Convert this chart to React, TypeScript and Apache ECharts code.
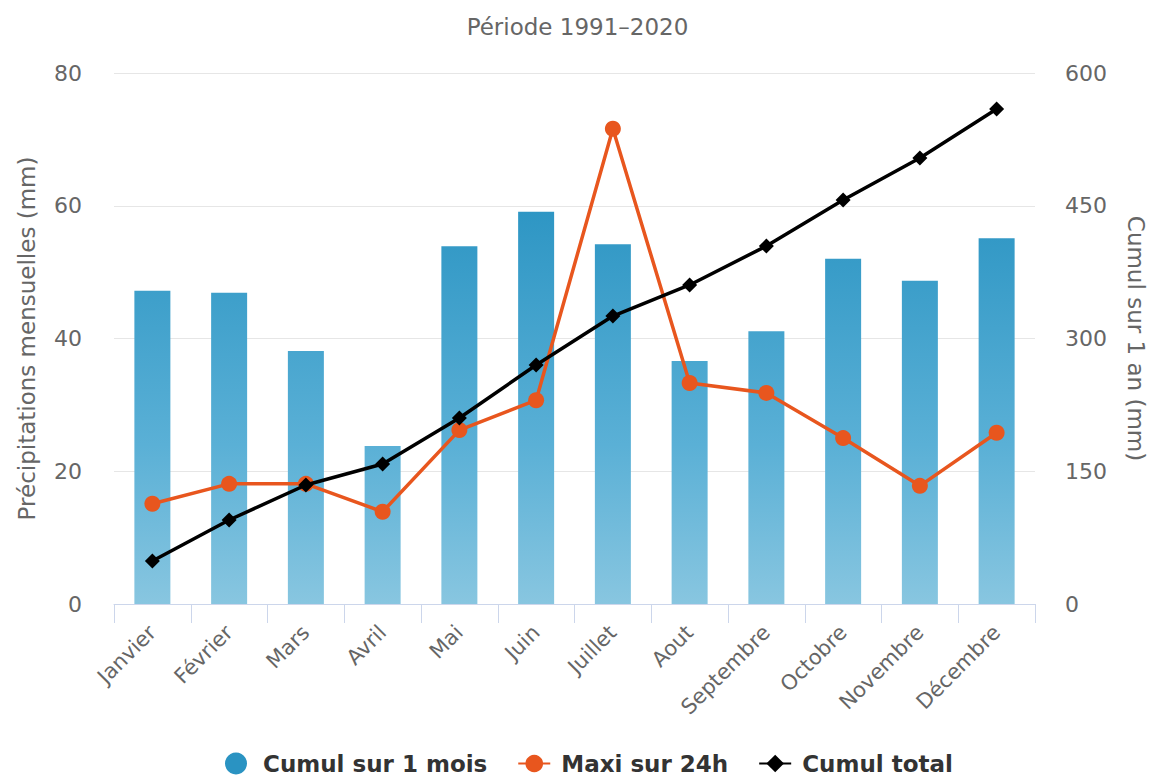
import React, { useEffect, useRef } from "react";
import * as echarts from "echarts";

const months = ["Janvier", "Février", "Mars", "Avril", "Mai", "Juin", "Juillet", "Aout", "Septembre", "Octobre", "Novembre", "Décembre"];
const cumulMois = [47.2, 46.9, 38.1, 23.8, 53.9, 59.1, 54.2, 36.6, 41.1, 52.0, 48.7, 55.1];
const maxi24h = [15.1, 18.1, 18.1, 13.9, 26.2, 30.7, 71.6, 33.3, 31.8, 25.0, 17.8, 25.8];
const cumulTotal = [48.6, 94.9, 134.5, 158.2, 210.2, 270.0, 325.4, 360.5, 404.5, 456.5, 504.0, 559.3];

export default function App() {
  const ref = useRef<HTMLDivElement>(null);
  useEffect(() => {
    const chart = echarts.init(ref.current!, null, { renderer: "svg" });
    const font = "DejaVu Sans";
    const gray = "#666666";
    chart.setOption({
      animation: false,
      title: {
        text: "Période 1991–2020",
        left: "center",
        top: 10,
        textStyle: { fontFamily: font, fontSize: 23, fontWeight: "normal", color: gray },
      },
      grid: { left: 114, right: 117, top: 73, bottom: 179, containLabel: false },
      legend: {
        top: 747,
        left: 220,
        itemGap: 30,
        itemWidth: 32,
        itemHeight: 22,
        textStyle: { fontFamily: font, fontSize: 23, fontWeight: "bold", color: "#333333", padding: [0, 0, 0, 6] },
        data: [
          { name: "Cumul sur 1 mois", icon: "circle", itemStyle: { color: "#2a93c2" } },
          { name: "Maxi sur 24h" },
          { name: "Cumul total" },
        ],
      },
      xAxis: {
        type: "category",
        data: months,
        boundaryGap: true,
        axisLine: { lineStyle: { color: "#ccd6eb", width: 1 } },
        axisTick: { show: true, length: 19, lineStyle: { color: "#ccd6eb" } },
        axisLabel: { fontFamily: font, fontSize: 21, color: gray, rotate: 45, margin: 25, interval: 0 },
      },
      yAxis: [
        {
          type: "value",
          min: 0,
          max: 80,
          interval: 20,
          name: "Précipitations mensuelles (mm)",
          nameLocation: "middle",
          nameGap: 76,
          nameTextStyle: { fontFamily: font, fontSize: 23, color: gray },
          axisLabel: { fontFamily: font, fontSize: 22, color: gray, margin: 32 },
          axisLine: { show: false },
          axisTick: { show: false },
          splitLine: { lineStyle: { color: "#e6e6e6" } },
        },
        {
          type: "value",
          min: 0,
          max: 600,
          interval: 150,
          name: "Cumul sur 1 an (mm)",
          nameLocation: "middle",
          nameRotate: -90,
          nameGap: 89,
          nameTextStyle: { fontFamily: font, fontSize: 23, color: gray },
          axisLabel: { fontFamily: font, fontSize: 22, color: gray, margin: 30 },
          axisLine: { show: false },
          axisTick: { show: false },
          splitLine: { show: false },
        },
      ],
      series: [
        {
          name: "Cumul sur 1 mois",
          type: "bar",
          yAxisIndex: 0,
          data: cumulMois,
          barWidth: 36,
          itemStyle: {
            color: new echarts.graphic.LinearGradient(0, 73, 0, 604, [
              { offset: 0, color: "#2490c0" },
              { offset: 0.26, color: "#2e96c4" },
              { offset: 0.7, color: "#5ab0d6" },
              { offset: 1, color: "#88c6e0" },
            ], true),
          },
          z: 1,
        },
        {
          name: "Maxi sur 24h",
          type: "line",
          yAxisIndex: 0,
          data: maxi24h,
          symbol: "circle",
          symbolSize: 16,
          lineStyle: { color: "#e8561e", width: 3.5 },
          itemStyle: { color: "#e8561e" },
          z: 2,
        },
        {
          name: "Cumul total",
          type: "line",
          yAxisIndex: 1,
          data: cumulTotal,
          symbol: "diamond",
          symbolSize: 15,
          lineStyle: { color: "#000000", width: 3.5 },
          itemStyle: { color: "#000000" },
          z: 3,
        },
      ],
    });
    return () => chart.dispose();
  }, []);
  return <div ref={ref} style={{ width: 1155, height: 783, margin: -8 }} />;
}
